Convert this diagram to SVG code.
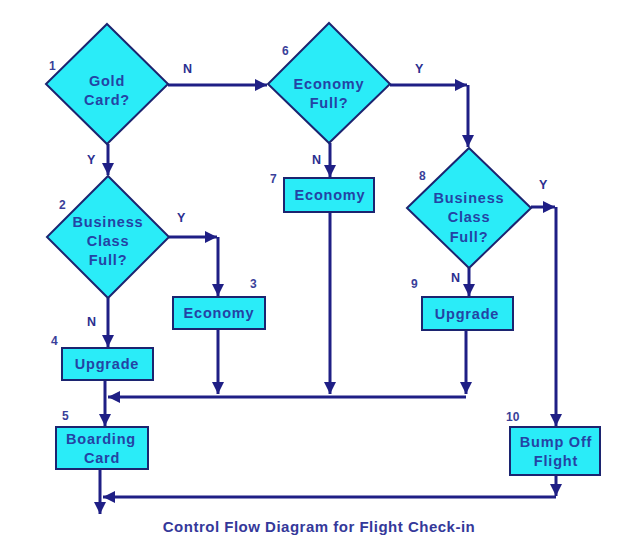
<svg xmlns="http://www.w3.org/2000/svg" width="622" height="556" viewBox="0 0 622 556">
<style>
.shape{fill:#2aecf8;stroke:#1c2470;stroke-width:2}
.t{font-family:"Liberation Sans",Arial,sans-serif;font-weight:bold;font-size:14.5px;fill:#2443a4;text-anchor:middle;letter-spacing:0.8px}
.num{font-family:"Liberation Sans",Arial,sans-serif;font-weight:bold;font-size:12px;fill:#3a3f9a}
.lbl{font-family:"Liberation Sans",Arial,sans-serif;font-weight:bold;font-size:12.5px;fill:#2a2f90}
.c{fill:none;stroke:#1f1f85;stroke-width:3}
.title{font-family:"Liberation Sans",Arial,sans-serif;font-weight:bold;font-size:15px;fill:#34389a;text-anchor:middle;letter-spacing:0.5px}
</style>
<defs>
<marker id="ah" markerUnits="userSpaceOnUse" markerWidth="14" markerHeight="14" refX="12" refY="7" orient="auto">
<path d="M0,1 L12,7 L0,13 Z" fill="#1f1f85"/>
</marker>
</defs>
<rect width="622" height="556" fill="#ffffff"/>
<g id="connectors">
<path class="c" d="M168,85 H267" marker-end="url(#ah)"/>
<path class="c" d="M108,144 V175" marker-end="url(#ah)"/>
<path class="c" d="M390,85 H467" marker-end="url(#ah)"/>
<path class="c" d="M468,85 V147" marker-end="url(#ah)"/>
<path class="c" d="M330,143 V177" marker-end="url(#ah)"/>
<path class="c" d="M169,237 H217" marker-end="url(#ah)"/>
<path class="c" d="M218,237 V296" marker-end="url(#ah)"/>
<path class="c" d="M108,298 V347" marker-end="url(#ah)"/>
<path class="c" d="M531,207 H555" marker-end="url(#ah)"/>
<path class="c" d="M556,207 V426" marker-end="url(#ah)"/>
<path class="c" d="M469,268 V296" marker-end="url(#ah)"/>
<path class="c" d="M218,329 V394" marker-end="url(#ah)"/>
<path class="c" d="M330,212 V394" marker-end="url(#ah)"/>
<path class="c" d="M466,330 V394" marker-end="url(#ah)"/>
<path class="c" d="M466,397 H108" marker-end="url(#ah)"/>
<path class="c" d="M105,380 V426" marker-end="url(#ah)"/>
<path class="c" d="M100,469 V514" marker-end="url(#ah)"/>
<path class="c" d="M556,475 V496" marker-end="url(#ah)"/>
<path class="c" d="M556,497 H103" marker-end="url(#ah)"/>
</g>
<g id="n1">
<polygon class="shape" points="107,24 168,84 107,144 46,84"/>
<text class="t" x="107" y="86">Gold</text>
<text class="t" x="107" y="105">Card?</text>
<text class="num" x="49" y="70">1</text>
</g>
<g id="n6">
<polygon class="shape" points="329,23 390,84 329,143 268,84"/>
<text class="t" x="329" y="89">Economy</text>
<text class="t" x="329" y="108">Full?</text>
<text class="num" x="282" y="55">6</text>
</g>
<g id="n2">
<polygon class="shape" points="108,176 169,237 108,298 47,237"/>
<text class="t" x="108" y="227">Business</text>
<text class="t" x="108" y="246">Class</text>
<text class="t" x="108" y="265">Full?</text>
<text class="num" x="59" y="209">2</text>
</g>
<g id="n8">
<polygon class="shape" points="469,148 531,208 469,268 407,208"/>
<text class="t" x="469" y="203">Business</text>
<text class="t" x="469" y="222">Class</text>
<text class="t" x="469" y="242">Full?</text>
<text class="num" x="419" y="180">8</text>
</g>
<g id="n7">
<rect class="shape" x="284" y="178" width="90" height="34"/>
<text class="t" x="330" y="200">Economy</text>
<text class="num" x="270" y="183">7</text>
</g>
<g id="n3">
<rect class="shape" x="173" y="297" width="92" height="32"/>
<text class="t" x="219" y="318">Economy</text>
<text class="num" x="250" y="288">3</text>
</g>
<g id="n4">
<rect class="shape" x="62" y="348" width="91" height="32"/>
<text class="t" x="107" y="369">Upgrade</text>
<text class="num" x="51" y="345">4</text>
</g>
<g id="n5">
<rect class="shape" x="56" y="427" width="92" height="42"/>
<text class="t" x="101" y="444">Boarding</text>
<text class="t" x="102" y="463">Card</text>
<text class="num" x="62" y="420">5</text>
</g>
<g id="n9">
<rect class="shape" x="422" y="297" width="91" height="33"/>
<text class="t" x="467" y="319">Upgrade</text>
<text class="num" x="411" y="288">9</text>
</g>
<g id="n10">
<rect class="shape" x="510" y="427" width="90" height="48"/>
<text class="t" x="556" y="447">Bump Off</text>
<text class="t" x="556" y="466">Flight</text>
<text class="num" x="506" y="421">10</text>
</g>
<g id="labels">
<text class="lbl" x="183" y="73">N</text>
<text class="lbl" x="87" y="164">Y</text>
<text class="lbl" x="415" y="73">Y</text>
<text class="lbl" x="312" y="164">N</text>
<text class="lbl" x="177" y="222">Y</text>
<text class="lbl" x="87" y="326">N</text>
<text class="lbl" x="539" y="189">Y</text>
<text class="lbl" x="451" y="282">N</text>
</g>
<text class="title" x="319" y="532">Control Flow Diagram for Flight Check-in</text>
</svg>
